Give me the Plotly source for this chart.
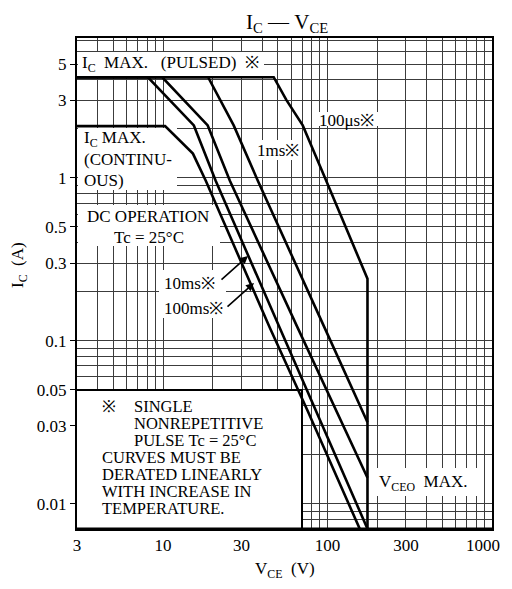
import math
import plotly.graph_objects as go

# ---------------- data ----------------
vce_dc = [3, 10.3, 15.2, 18.2, 44.6, 75.8, 157]
ic_dc = [2.08, 2.08, 1.41, 0.96, 0.12, 0.037, 0.007]

vce_100ms = [3, 8.1, 15.4, 20.9, 51.2, 175]
ic_100ms = [4.15, 4.15, 2.1, 0.96, 0.12, 0.007]

vce_10ms = [3, 9.9, 18.7, 25.5, 65.9, 175]
ic_10ms = [4.15, 4.15, 2.1, 0.96, 0.12, 0.0144]

vce_1ms = [3, 18.8, 26.9, 37.7, 96.1, 175]
ic_1ms = [4.15, 4.15, 2.1, 0.96, 0.12, 0.0316]

vce_100us = [3, 47.1, 56.3, 70.7, 96.2, 130, 175, 175]
ic_100us = [4.15, 4.15, 3.0, 2.1, 1.01, 0.496, 0.24, 0.007]

x_tickvals = [3, 10, 30, 100, 300, 1000]
x_ticktext = ["3", "10", "30", "100", "300", "1000"]
x_minor = [4, 5, 6, 7, 8, 9, 20, 40, 50, 60, 70, 80, 90,
           200, 400, 500, 600, 700, 800, 900]

y_tickvals = [5, 3, 1, 0.5, 0.3, 0.1, 0.05, 0.03, 0.01]
y_ticktext = ["5", "3", "1", "0.5", "0.3", "0.1", "0.05", "0.03", "0.01"]
y_minor = [0.007, 0.008, 0.009, 0.02, 0.04, 0.06, 0.07, 0.08, 0.09,
           0.2, 0.4, 0.6, 0.7, 0.8, 0.9, 2, 4, 6, 7]

# ---------------- layout geometry (reference pixels) ----------------
OFF = 8                       # page body margin of the browser
W, H = 512 - OFF, 589 - 2 * OFF
L, R, T, B = 77, 492, 38, 529
XR = [math.log10(3), 3.0]
YR = [-2.156, 0.859]
FONT = "Liberation Serif"
GRID = "#3c3c3c"


def P(px, py):
    return (px - L) / (R - L), (B - py) / (B - T)


def XV(px):
    return 10 ** (XR[0] + (px - L) / (R - L) * (XR[1] - XR[0]))


def YV(py):
    return 10 ** (YR[0] + (B - py) / (B - T) * (YR[1] - YR[0]))


fig = go.Figure()


def white_box(px0, py0, px1, py1, border=False):
    xs = [XV(px0), XV(px1), XV(px1), XV(px0), XV(px0)]
    ys = [YV(py0), YV(py0), YV(py1), YV(py1), YV(py0)]
    fig.add_trace(go.Scatter(x=xs, y=ys, mode="lines", fill="toself",
                             fillcolor="white", line=dict(width=0, color="white"),
                             hoverinfo="skip", showlegend=False))
    if border:
        fig.add_trace(go.Scatter(x=[XV(px0), XV(px1), XV(px1)],
                                 y=[YV(py0), YV(py0), YV(py1)], mode="lines",
                                 line=dict(color="black", width=2),
                                 hoverinfo="skip", showlegend=False))


white_box(78, 52, 264, 76)      # IC MAX (PULSED)
white_box(78, 128, 177, 190)    # IC MAX (CONTINUOUS)
white_box(78, 205, 220, 246)    # DC OPERATION
white_box(159, 270, 226, 318)   # 10ms / 100ms
white_box(252, 140, 302, 160)   # 1ms
white_box(315, 112, 380, 126)   # 100us
white_box(373, 468, 478, 496)   # VCEO MAX
white_box(77, 390, 302, 530, border=True)  # note box

series = [(vce_dc, ic_dc), (vce_100ms, ic_100ms), (vce_10ms, ic_10ms),
          (vce_1ms, ic_1ms), (vce_100us, ic_100us)]
for xs, ys in series:
    fig.add_trace(go.Scatter(x=xs, y=ys, mode="lines",
                             line=dict(color="black", width=2.6),
                             hoverinfo="skip", showlegend=False))

shapes = [dict(type="line", xref="paper", yref="paper", x0=0, x1=1, y0=0, y1=0,
               line=dict(color="black", width=3), layer="above")]

ann = []


def text(s, px, py, size=17, anchor="left", angle=0):
    x, y = P(px, py)
    ann.append(dict(text=s, x=x, y=y, xref="paper", yref="paper", showarrow=False,
                    xanchor=anchor, yanchor="middle", textangle=angle,
                    font=dict(family=FONT, size=size, color="black")))


NB = "\u00a0"
text("I<sub>C</sub>" + NB * 2 + "MAX." + NB * 3 + "(PULSED)" + NB * 2 + "※", 80, 64)
text("100μs※", 317, 120)
text("1ms※", 255, 150)
text("I<sub>C</sub>" + NB + "MAX.", 82, 139)
text("(CONTINU-", 82, 160)
text("OUS)", 82, 180)
text("DC" + NB + "OPERATION", 148, 216, anchor="center")
text("Tc" + NB + "=" + NB + "25°C", 149, 237, anchor="center")
text("10ms※", 162, 283)
text("100ms※", 162, 308)
text("V<sub>CEO</sub>" + NB + NB + "MAX.", 377, 483)
NS = 16.5
text("※", 100, 406, size=NS)
text("SINGLE", 132, 406, size=NS)
text("NONREPETITIVE", 132, 423, size=NS)
text("PULSE" + NB + "Tc" + NB + "=" + NB + "25°C", 132, 440, size=NS)
text("CURVES" + NB + "MUST" + NB + "BE", 100, 457, size=NS)
text("DERATED" + NB + "LINEARLY", 100, 474, size=NS)
text("WITH" + NB + "INCREASE" + NB + "IN", 100, 491, size=NS)
text("TEMPERATURE.", 100, 508, size=NS)

# last x tick label kept inside the visible page
x_shown = list(x_ticktext)
x_shown[-1] = ""
text(x_ticktext[-1], 502, 545, size=17, anchor="right")

# titles
text("I<sub>C</sub>" + NB + "—" + NB + "V<sub>CE</sub>", 287, 23, size=21, anchor="center")
text("V<sub>CE</sub>" + NB + NB + "(V)", 285, 570, size=17, anchor="center")
text("I<sub>C</sub>" + NB + NB + "(A)", 19, 265, size=17, anchor="center", angle=-90)

# arrows for 10ms / 100ms
for hx, hy in [(248, 256), (254, 283)]:
    x, y = P(hx, hy)
    ann.append(dict(x=x, y=y, xref="paper", yref="paper", text="", showarrow=True,
                    ax=-28, ay=25, arrowhead=2, arrowsize=1, arrowwidth=1.6,
                    arrowcolor="black"))

fig.update_layout(
    width=W, height=H, autosize=False,
    margin=dict(l=L - OFF, r=OFF + W - R, t=T - OFF, b=OFF + H - B),
    plot_bgcolor="white", paper_bgcolor="white",
    showlegend=False,
    shapes=shapes, annotations=ann,
    font=dict(family=FONT, size=17, color="black"),
)
fig.update_xaxes(
    type="log", range=XR, automargin=False,
    tickvals=x_tickvals, ticktext=x_shown,
    showgrid=True, gridcolor=GRID, gridwidth=1,
    minor=dict(tickvals=x_minor, showgrid=True, gridcolor=GRID, gridwidth=1, ticks=""),
    showline=True, linecolor="black", linewidth=1.5, mirror=True,
    ticks="", zeroline=False, ticklabeloverflow="allow",
    tickfont=dict(family=FONT, size=17, color="black"),
)
fig.update_yaxes(
    type="log", range=YR, automargin=False,
    tickvals=y_tickvals, ticktext=y_ticktext,
    showgrid=True, gridcolor=GRID, gridwidth=1,
    minor=dict(tickvals=y_minor, showgrid=True, gridcolor=GRID, gridwidth=1, ticks=""),
    showline=True, linecolor="black", linewidth=2, mirror=True,
    ticks="outside", ticklen=5, tickcolor="black", tickwidth=1,
    zeroline=False,
    tickfont=dict(family=FONT, size=17, color="black"),
)

fig.write_html("out.html", config={"responsive": False})
